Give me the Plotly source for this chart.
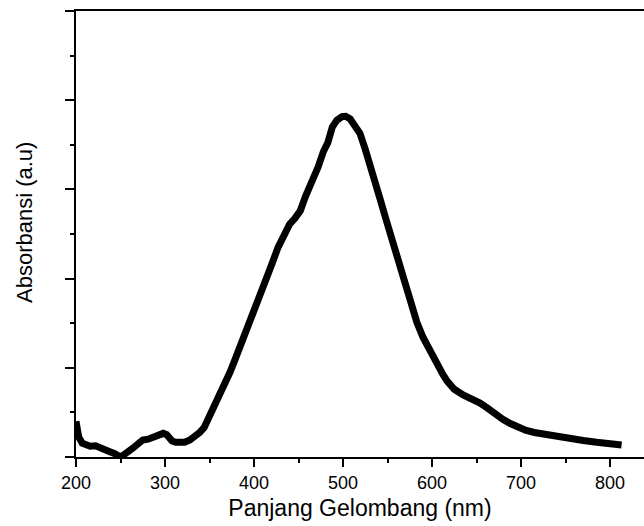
import plotly.graph_objects as go

wavelength = [200, 201, 203, 207, 212, 216, 222, 227, 232, 238, 243, 247, 250, 253, 258,
              264, 270, 275, 281, 287, 293, 298, 302, 305, 308, 312, 317, 322, 328, 333,
              339, 344, 348, 353, 358, 363, 368, 373, 378, 383, 388, 393, 398, 403, 410,
              415, 420, 427, 433, 440, 446, 452, 458, 466, 472, 478, 483, 488, 493, 499,
              503, 508, 513, 519, 525, 530, 536, 542, 548, 553, 558, 564, 572, 578, 583,
              590, 598, 605, 612, 617, 625, 635, 645, 654, 662, 668, 673, 680, 688, 695,
              705, 715, 725, 733, 745, 758, 770, 785, 800, 813]
absorbance = [0.080, 0.072, 0.045, 0.031, 0.027, 0.024, 0.025, 0.022, 0.019, 0.012, 0.008, 0.002, 0.000, 0.004, 0.010,
              0.020, 0.030, 0.038, 0.040, 0.045, 0.048, 0.053, 0.050, 0.043, 0.036, 0.033, 0.031, 0.033, 0.038, 0.044,
              0.055, 0.066, 0.082, 0.105, 0.128, 0.150, 0.170, 0.190, 0.215, 0.240, 0.262, 0.288, 0.318, 0.342, 0.375,
              0.400, 0.432, 0.470, 0.495, 0.522, 0.535, 0.552, 0.585, 0.621, 0.650, 0.685, 0.705, 0.740, 0.755, 0.763,
              0.764, 0.758, 0.745, 0.726, 0.690, 0.652, 0.615, 0.576, 0.535, 0.500, 0.465, 0.426, 0.372, 0.335, 0.302,
              0.268, 0.235, 0.208, 0.186, 0.170, 0.152, 0.139, 0.130, 0.121, 0.110, 0.100, 0.094, 0.084, 0.075, 0.067,
              0.060, 0.055, 0.051, 0.048, 0.044, 0.040, 0.037, 0.033, 0.030, 0.027]

x_tickvals = [200, 300, 400, 500, 600, 700, 800]
x_ticktext = ["200", "300", "400", "500", "600", "700", "800"]
x_title = "Panjang Gelombang (nm)"
y_title = "Absorbansi (a.u)"

FONT = "Liberation Sans, Arial, sans-serif"

fig = go.Figure()
fig.add_trace(go.Scatter(
    x=wavelength, y=absorbance, mode="lines",
    line=dict(color="black", width=7, shape="linear"),
    showlegend=False, hoverinfo="skip"))

fig.update_layout(
    width=644, height=526,
    margin=dict(l=76, r=0, t=11, b=69),
    paper_bgcolor="white", plot_bgcolor="white",
    font=dict(family=FONT, color="black"),
)
fig.update_xaxes(
    range=[200, 838.2], autorange=False,
    tickvals=x_tickvals, ticktext=x_ticktext,
    ticks="outside", ticklen=8, tickwidth=1.5, tickcolor="black",
    minor=dict(dtick=50, tick0=200, ticks="outside", ticklen=4, tickwidth=1.5, tickcolor="black"),
    showline=True, linecolor="black", linewidth=2, mirror=True,
    showgrid=False, zeroline=False,
    tickfont=dict(size=18, family=FONT, color="black"),
    title=dict(text=x_title, font=dict(size=23, family=FONT, color="black"), standoff=8),
)
fig.update_yaxes(
    range=[0, 1.0], autorange=False,
    dtick=0.2, tick0=0, showticklabels=False,
    ticks="outside", ticklen=9, tickwidth=1.5, tickcolor="black",
    minor=dict(dtick=0.1, tick0=0, ticks="outside", ticklen=4, tickwidth=1.5, tickcolor="black"),
    showline=True, linecolor="black", linewidth=2, mirror=False,
    showgrid=False, zeroline=False,
)
fig.add_annotation(
    text=y_title, xref="paper", yref="paper",
    x=(24 - 76) / 568, y=(457 - 223) / 446,
    xanchor="center", yanchor="middle", textangle=-90, showarrow=False,
    font=dict(size=22, family=FONT, color="black"),
)

fig.write_html("out.html")
